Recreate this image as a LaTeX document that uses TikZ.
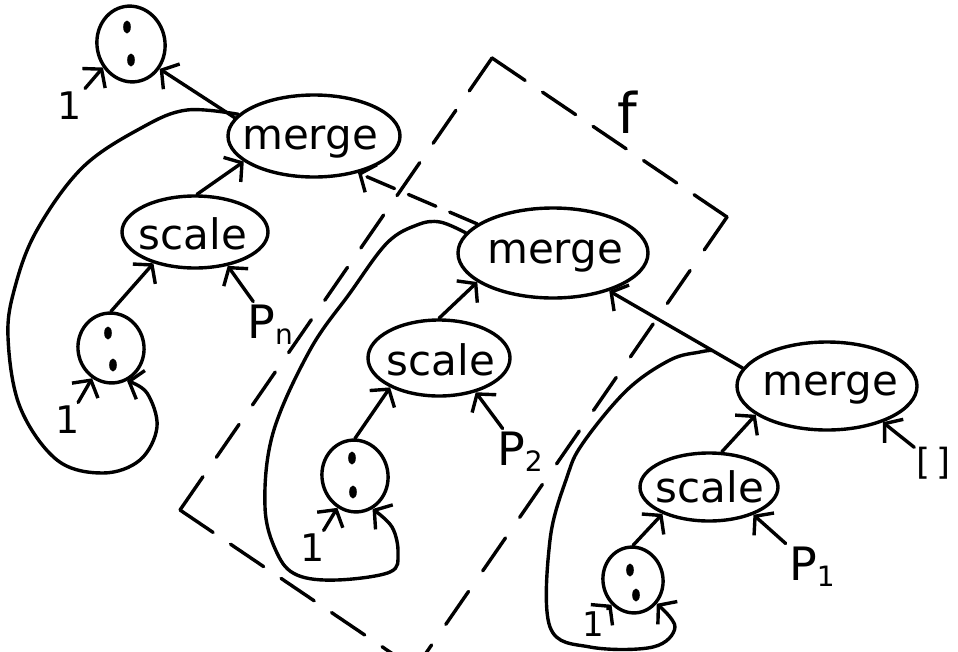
\documentclass[tikz,border=0pt]{standalone}
\usepackage{fontspec}
\setmainfont{DejaVu Sans}
\usetikzlibrary{shapes.geometric,arrows.meta,calc}
\newcommand\consdots[5]{%
  \fill ($(#1)+(#2,#3)$) ellipse [x radius=3.8pt, y radius=6.5pt];
  \fill ($(#1)+(#4,#5)$) ellipse [x radius=3.8pt, y radius=6.5pt];}
\begin{document}
\begin{tikzpicture}[x=1pt,y=-1pt,
  line width=3.4pt, line cap=round, line join=round,
  arr/.style={-{Straight Barb[length=12pt,width=30pt]}},
  consbox/.style={draw, ellipse, inner sep=0pt, rotate=10},
  opbox/.style={draw, ellipse, inner sep=0pt},
  word/.style={font=\fontsize{42}{42}\selectfont, inner sep=0pt},
  onelbl/.style={font=\fontsize{38}{38}\selectfont, inner sep=2pt},
  plbl/.style={font=\fontsize{46}{46}\selectfont, inner sep=2pt},
  flbl/.style={font=\fontsize{56}{56}\selectfont, inner sep=0pt},
  nillbl/.style={font=\fontsize{36}{36}\selectfont, inner sep=1pt},
  linkdash/.style={dash pattern=on 30pt off 15pt},
]
\useasboundingbox (0,0) rectangle (958,651);
\clip (0,0) rectangle (958,651);
\fill[white] (0,0) rectangle (958,651);

% dashed box f
\draw[dash pattern=on 40pt off 21pt] (492,58) -- (727,217);
\draw[dash pattern=on 40pt off 23.6pt] (492,58) -- (180,510);
\draw[dash pattern=on 40pt off 25pt] (727,217) -- (415,669);
\draw[dash pattern=on 40pt off 21pt] (180,510) -- (415,669);
\node[flbl] (f) at (627,112) {f};

% ---------- stage n ----------
\node[consbox, minimum width=68pt, minimum height=76pt] (c1) at (131,44) {};
\consdots{c1}{-4}{-17}{0}{16}
\node[onelbl] (one1) at (70,106) {1};
\node[opbox, minimum width=172pt, minimum height=82pt] (m1) at (314,136) {};
\node[word] (m1t) at (310,142) {merge};
\node[opbox, minimum width=146pt, minimum height=72pt] (s1) at (195,232) {};
\node[word] (s1t) at (193,234) {scale};
\node[consbox, minimum width=66pt, minimum height=70pt] (c2) at (111,348) {};
\consdots{c2}{-3}{-15}{2}{17}
\node[onelbl] (one2) at (68,420) {1};
\node[plbl] (pn) at (270,325) {P\raisebox{-6pt}{\fontsize{28}{28}\selectfont n}};

\draw[arr] (one1) -- (c1.210);
\draw[arr] (m1.167) -- (c1.309);
\draw[arr] (s1.87) -- (m1.200);
\draw[arr] (c2.80) -- (s1.217);
\draw[arr] (pn) -- (s1.314);
\draw[arr] (one2) -- (c2.228);
\draw[arr] plot[smooth, tension=0.6] coordinates {(m1.164) (187,110) (143,127) (83,167) (37,230) (15,287) (8,337) (20,407) (57,460) (103,473) (140,460) (157,427) (147,393) (c2.286)};

% ---------- stage 2 ----------
\node[opbox, minimum width=190pt, minimum height=90pt] (m2) at (553,253) {};
\node[word] (m2t) at (555,256) {merge};
\node[opbox, minimum width=142pt, minimum height=76pt] (s2) at (439,358) {};
\node[word] (s2t) at (441,360) {scale};
\node[consbox, minimum width=66pt, minimum height=72pt] (c3) at (355,476) {};
\consdots{c3}{-3}{-18}{-2}{16}
\node[onelbl] (one3) at (313,548) {1};
\node[plbl] (p2) at (520,452) {P\raisebox{-6pt}{\fontsize{28}{28}\selectfont 2}};

\draw[arr, linkdash] (m2.159) -- (m1.320);
\draw[arr] (s2.90) -- (m2.201);
\draw[arr] (c3.80) -- (s2.211);
\draw[arr] (p2) -- (s2.317);
\draw[arr] (one3) -- (c3.231);
\draw[arr] plot[smooth, tension=0.6] coordinates {(m2.167) (440,222) (417,225) (387,243) (350,293) (310,350) (273,433) (265,507) (277,553) (297,575) (337,580) (390,572) (398,553) (392,527) (c3.288)};

% ---------- stage 1 ----------
\node[opbox, minimum width=180pt, minimum height=88pt] (m3) at (827,386) {};
\node[word] (m3t) at (830,388) {merge};
\node[opbox, minimum width=138pt, minimum height=68pt] (s3) at (709,487) {};
\node[word] (s3t) at (710,487) {scale};
\node[consbox, minimum width=60pt, minimum height=66pt] (c4) at (633,580) {};
\consdots{c4}{-3}{-10}{3}{15}
\node[onelbl, font=\fontsize{34}{34}\selectfont] (one4) at (593,624) {1};
\node[plbl] (p1) at (812,567) {P\raisebox{-6pt}{\fontsize{28}{28}\selectfont 1}};
\node[nillbl] (nil) at (934,463) {[\,]};

\draw[arr] (m3.168) -- (m2.326);
\coordinate (br3) at ($(m3.168)!0.23!(m2.326)$);
\draw[arr] plot[smooth, tension=0.6] coordinates {(br3) (700,352) (670,360) (627,390) (583,443) (567,477) (550,540) (550,627) (590,647) (653,647) (675,627) (c4.305)};
\draw[arr] (s3.70) -- (m3.202);
\draw[arr] (c4.80) -- (s3.210);
\draw[arr] (p1) -- (s3.328);
\draw[arr] (one4) -- (c4.219);
\draw[arr] (nil) -- (m3.327);
\end{tikzpicture}
\end{document}
